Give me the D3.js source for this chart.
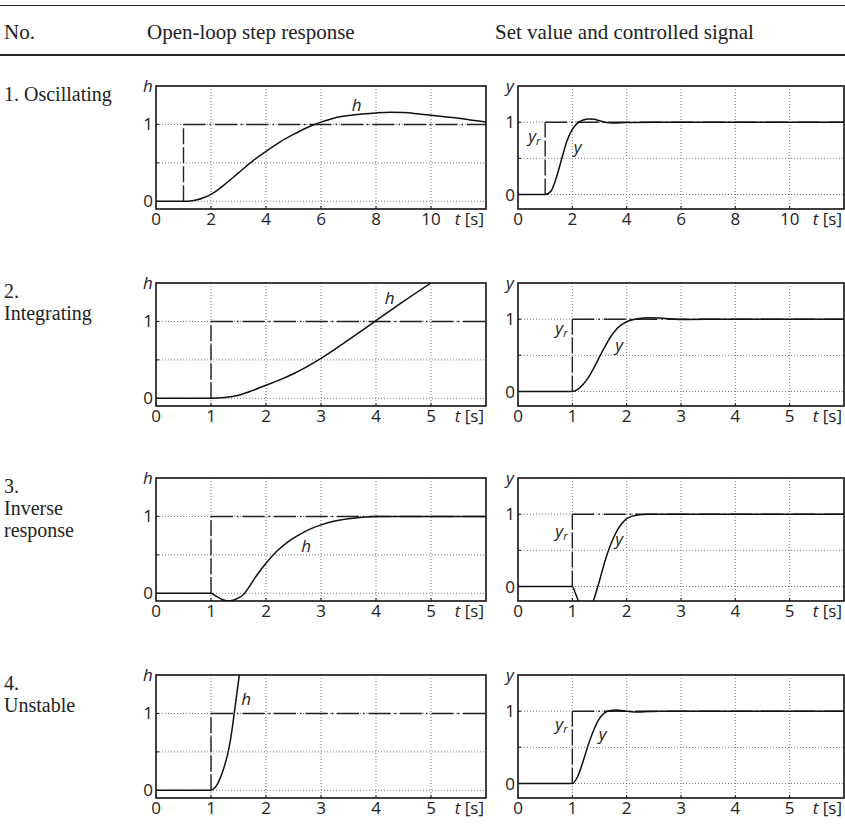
<!DOCTYPE html>
<html>
<head>
<meta charset="utf-8">
<script src="https://cdn.jsdelivr.net/npm/d3@7"></script>
<style>
  body { margin: 0; background: #fff; }
  .serif { font-family: "Liberation Serif", "DejaVu Serif", serif; fill: #222; }
  .sans { font-family: "Open Sans", "Noto Sans", sans-serif; fill: #222; }
</style>
</head>
<body>
<svg id="fig" width="845" height="840"></svg>
<script>
// table text
var headers = ["No.", "Open-loop step response", "Set value and controlled signal"];
var rowLabels = [["1. Oscillating"], ["2.", "Integrating"], ["3.", "Inverse", "response"], ["4.", "Unstable"]];

// time axes
var tMax = [12, 6, 6, 6];
var tTicks = [[0, 2, 4, 6, 8, 10], [0, 1, 2, 3, 4, 5], [0, 1, 2, 3, 4, 5], [0, 1, 2, 3, 4, 5]];
var yTickVals = [0, 1];
var gridY = [0, 0.5, 1];
var stepTime = 1;

// open-loop step responses h(t)
var tH1 = [0, 1, 1.25, 1.5, 1.75, 2, 2.25, 2.5, 3, 3.5, 4, 4.5, 5, 5.5, 6, 6.5, 7, 7.5, 8, 8.5, 9, 9.5, 10, 10.5, 11, 11.5, 12];
var h1  = [0, 0, 0.004, 0.02, 0.05, 0.09, 0.15, 0.22, 0.37, 0.52, 0.65, 0.77, 0.87, 0.96, 1.03, 1.085, 1.115, 1.135, 1.15, 1.158, 1.155, 1.14, 1.12, 1.10, 1.08, 1.055, 1.03];
var tH2 = [0, 1, 1.25, 1.5, 1.75, 2, 2.25, 2.5, 3, 3.5, 4, 4.5, 5];
var h2  = [0, 0, 0.01, 0.04, 0.1, 0.17, 0.24, 0.32, 0.52, 0.76, 1.01, 1.26, 1.5];
var tH3 = [0, 1, 1.1, 1.2, 1.3, 1.4, 1.5, 1.6, 1.7, 1.8, 1.9, 2.0, 2.2, 2.4, 2.6, 2.8, 3.0, 3.25, 3.5, 3.75, 4, 6];
var h3  = [0, 0, -0.04, -0.08, -0.1, -0.09, -0.06, -0.01, 0.09, 0.2, 0.3, 0.39, 0.55, 0.67, 0.76, 0.835, 0.89, 0.94, 0.97, 0.99, 1.0, 1.0];
var tH4 = [0, 1, 1.05, 1.1, 1.15, 1.2, 1.25, 1.3, 1.35, 1.4, 1.45, 1.5, 1.55];
var h4  = [0, 0, 0.02, 0.06, 0.13, 0.22, 0.33, 0.46, 0.64, 0.88, 1.15, 1.42, 1.7];

// closed-loop controlled signal y(t)
var tY1 = [0, 1, 1.2, 1.4, 1.6, 1.8, 2.0, 2.2, 2.4, 2.6, 2.8, 3.0, 3.2, 3.5, 4, 5, 12];
var y1  = [0, 0, 0.04, 0.22, 0.48, 0.74, 0.90, 0.99, 1.03, 1.045, 1.04, 1.02, 1.0, 0.99, 0.995, 1, 1];
var tY2 = [0, 1, 1.1, 1.2, 1.3, 1.4, 1.5, 1.6, 1.7, 1.8, 1.9, 2.0, 2.2, 2.4, 2.6, 3, 3.5, 4, 6];
var y2  = [0, 0, 0.03, 0.1, 0.2, 0.33, 0.48, 0.62, 0.75, 0.85, 0.92, 0.965, 1.005, 1.02, 1.015, 0.995, 0.998, 1, 1];
var tY3 = [0, 1, 1.05, 1.1, 1.15, 1.2, 1.25, 1.3, 1.35, 1.4, 1.5, 1.6, 1.7, 1.8, 1.9, 2.0, 2.2, 2.4, 6];
var y3  = [0, 0, -0.08, -0.18, -0.28, -0.35, -0.38, -0.36, -0.28, -0.17, 0.08, 0.35, 0.57, 0.74, 0.86, 0.94, 0.99, 1.0, 1.0];
var tY4 = [0, 1, 1.1, 1.2, 1.3, 1.4, 1.5, 1.6, 1.7, 1.8, 2.0, 2.2, 2.4, 2.6, 6];
var y4  = [0, 0, 0.1, 0.31, 0.55, 0.75, 0.9, 0.98, 1.01, 1.015, 1.0, 0.99, 0.995, 1, 1];

// curve labels (data coords)
var hLabelAt  = [[7.3, 1.25], [4.25, 1.31], [2.73, 0.62], [1.64, 1.19]];
var yLabelAt  = [[2.2, 0.63], [1.86, 0.62], [1.86, 0.63], [1.56, 0.66]];
var yrLabelAt = [[0.6, 0.78], [0.8, 0.85], [0.8, 0.74], [0.8, 0.8]];

var hSeries = [[tH1, h1], [tH2, h2], [tH3, h3], [tH4, h4]];
var ySeries = [[tY1, y1], [tY2, y2], [tY3, y3], [tY4, y4]];

var svg = d3.select("#fig");
var rowTop = [86, 283, 478, 675];
var pH = 123;

// header rules + titles
svg.append("line").attr("x1", 0).attr("x2", 845).attr("y1", 5.5).attr("y2", 5.5)
  .attr("stroke", "#222").attr("stroke-width", 1.2);
svg.append("line").attr("x1", 0).attr("x2", 845).attr("y1", 55).attr("y2", 55)
  .attr("stroke", "#222").attr("stroke-width", 2.2);
var headX = [4, 147, 495];
headers.forEach(function (s, i) {
  svg.append("text").attr("class", "serif").attr("x", headX[i]).attr("y", 39)
    .attr("font-size", 21).text(s);
});

rowLabels.forEach(function (lines, r) {
  lines.forEach(function (s, k) {
    svg.append("text").attr("class", "serif").attr("x", 4).attr("y", rowTop[r] + 15 + k * 22)
      .attr("font-size", 20).text(s);
  });
});

function panel(r, left, w, yDom, series, kind) {
  var top = rowTop[r];
  var x = d3.scaleLinear().domain([0, tMax[r]]).range([left, left + w]);
  var y = d3.scaleLinear().domain(yDom).range([top + pH, top]);
  var g = svg.append("g");
  var id = "clip" + r + kind;
  svg.append("clipPath").attr("id", id).append("rect")
    .attr("x", left).attr("y", top).attr("width", w).attr("height", pH);

  // dotted grid
  g.selectAll(".gx").data(tTicks[r].slice(1)).enter().append("line")
    .attr("x1", x).attr("x2", x).attr("y1", top).attr("y2", top + pH)
    .attr("stroke", "#777").attr("stroke-width", 1).attr("stroke-dasharray", "1,2");
  g.selectAll(".gy").data(gridY).enter().append("line")
    .attr("x1", left).attr("x2", left + w).attr("y1", y).attr("y2", y)
    .attr("stroke", "#777").attr("stroke-width", 1).attr("stroke-dasharray", "1,2");

  // step / set value
  g.append("line").attr("x1", x(stepTime)).attr("x2", x(stepTime)).attr("y1", y(0)).attr("y2", y(1))
    .attr("stroke", "#222").attr("stroke-width", 1.4).attr("stroke-dasharray", "16,3");
  g.append("line").attr("x1", x(stepTime)).attr("x2", x(tMax[r])).attr("y1", y(1)).attr("y2", y(1))
    .attr("stroke", "#222").attr("stroke-width", 1.4).attr("stroke-dasharray", "22,4,1.5,4");

  // curve
  var pts = series[0].map(function (t, i) { return [t, series[1][i]]; });
  var line = d3.line().x(function (d) { return x(d[0]); }).y(function (d) { return y(d[1]); })
    .curve(d3.curveMonotoneX);
  g.append("path").datum(pts).attr("d", line).attr("fill", "none")
    .attr("stroke", "#111").attr("stroke-width", 1.5).attr("clip-path", "url(#" + id + ")");

  // frame
  g.append("rect").attr("x", left).attr("y", top).attr("width", w).attr("height", pH)
    .attr("fill", "none").attr("stroke", "#111").attr("stroke-width", 1.6);

  // inner ticks
  g.selectAll(".tx").data(tTicks[r].slice(1)).enter().append("line")
    .attr("x1", x).attr("x2", x).attr("y1", top + pH).attr("y2", top + pH - 3)
    .attr("stroke", "#111").attr("stroke-width", 1);
  g.selectAll(".ty").data(gridY).enter().append("line")
    .attr("x1", left).attr("x2", left + 3).attr("y1", y).attr("y2", y)
    .attr("stroke", "#111").attr("stroke-width", 1);

  // tick labels
  g.selectAll(".lx").data(tTicks[r]).enter().append("text").attr("class", "sans")
    .attr("x", x).attr("y", top + pH + 16).attr("text-anchor", "middle")
    .attr("font-size", 17).text(function (d) { return d; });
  g.selectAll(".ly").data(yTickVals).enter().append("text").attr("class", "sans")
    .attr("x", left - 3).attr("y", function (d) { return y(d) + 6; }).attr("text-anchor", "end")
    .attr("font-size", 17).text(function (d) { return d; });

  var tl = g.append("text").attr("class", "sans").attr("x", left + w - 2).attr("y", top + pH + 16)
    .attr("text-anchor", "end").attr("font-size", 17);
  tl.append("tspan").attr("font-style", "italic").text("t");
  tl.append("tspan").text(" [s]");

  var axisName = kind === "h" ? "h" : "y";
  g.append("text").attr("class", "sans").attr("x", left - 8).attr("y", top + 6)
    .attr("text-anchor", "middle").attr("font-size", 17).attr("font-style", "italic").text(axisName);

  if (kind === "h") {
    g.append("text").attr("class", "sans").attr("x", x(hLabelAt[r][0])).attr("y", y(hLabelAt[r][1]) + 6)
      .attr("text-anchor", "middle").attr("font-size", 17).attr("font-style", "italic").text("h");
  } else {
    g.append("text").attr("class", "sans").attr("x", x(yLabelAt[r][0])).attr("y", y(yLabelAt[r][1]) + 4)
      .attr("text-anchor", "middle").attr("font-size", 17).attr("font-style", "italic").text("y");
    var yr = g.append("text").attr("class", "sans").attr("x", x(yrLabelAt[r][0])).attr("y", y(yrLabelAt[r][1]) + 4)
      .attr("text-anchor", "middle").attr("font-size", 17).attr("font-style", "italic");
    yr.append("tspan").text("y");
    yr.append("tspan").attr("font-size", 11).attr("dy", 3).text("r");
  }
}

for (var r = 0; r < 4; r++) {
  panel(r, 156, 330, [-0.1, 1.5], hSeries[r], "h");
  panel(r, 518, 326, [-0.2, 1.5], ySeries[r], "y");
}
</script>
</body>
</html>
